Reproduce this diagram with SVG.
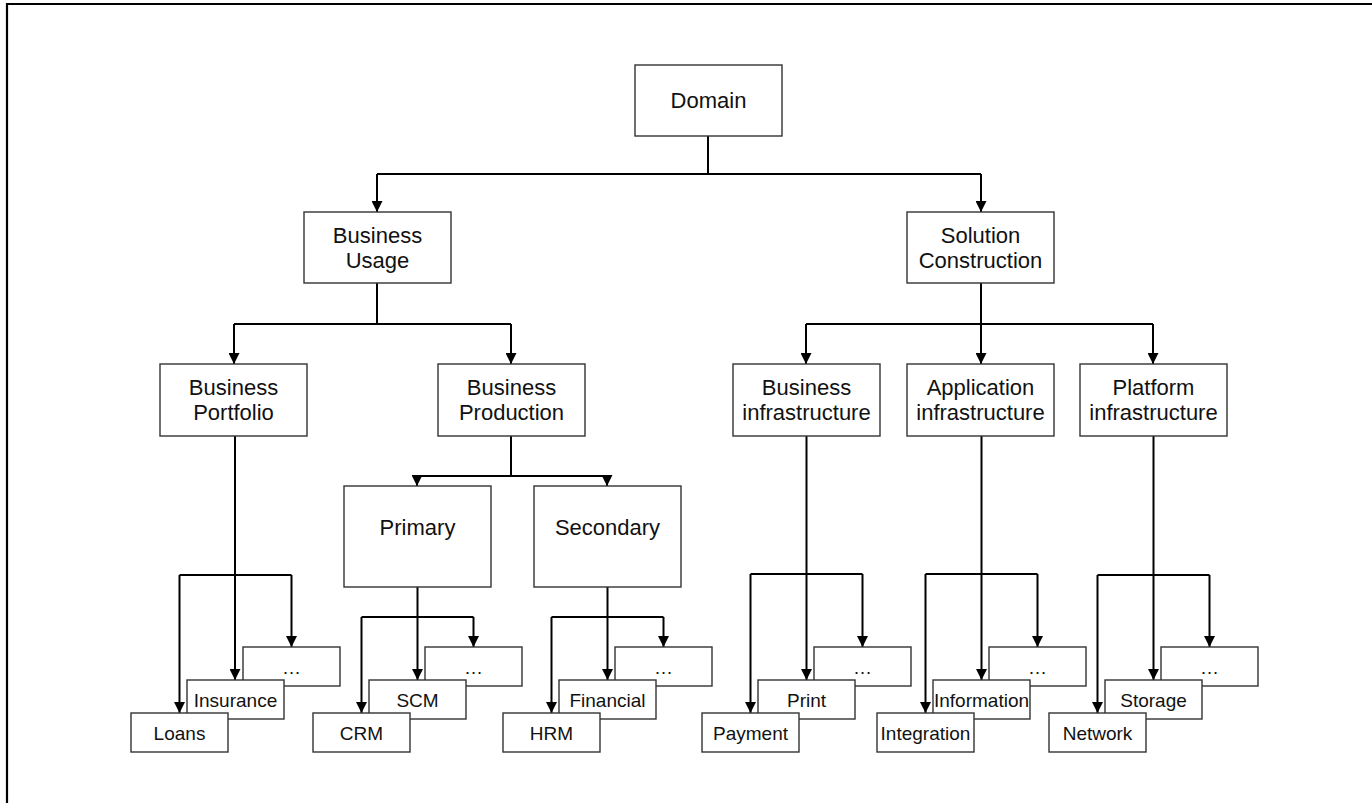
<svg xmlns="http://www.w3.org/2000/svg" width="1372" height="803" viewBox="0 0 1372 803">
  <style>
    .box { fill: #ffffff; stroke: #333333; stroke-width: 1.4; }
    .lbl { font-family: "Liberation Sans", Arial, sans-serif; font-size: 22px; fill: #111111; text-anchor: middle; }
    .sm { font-family: "Liberation Sans", Arial, sans-serif; font-size: 19px; fill: #111111; text-anchor: middle; }
    .edge { fill: none; stroke: #000000; stroke-width: 2; }
    .arr { fill: none; stroke: #000000; stroke-width: 2; marker-end: url(#head); }
  </style>
  <defs>
    <marker id="head" viewBox="0 0 10 10" refX="10" refY="5" markerWidth="5.5" markerHeight="5.5" markerUnits="strokeWidth" orient="auto">
      <path d="M0,0 L10,5 L0,10 Z" fill="#000000"/>
    </marker>
  </defs>

  <rect x="0" y="0" width="1372" height="803" fill="#ffffff"/>
  <!-- frame -->
  <path d="M7,803 V4 H1372" fill="none" stroke="#000000" stroke-width="2.2"/>

  <!-- connectors -->
  <g id="connectors">
    <path class="edge" d="M708,136 V174 M377,174 H981"/>
    <path class="arr" d="M377,174 V212"/>
    <path class="arr" d="M981,174 V212"/>

    <path class="edge" d="M377,283 V324 M234,324 H511"/>
    <path class="arr" d="M234,324 V364"/>
    <path class="arr" d="M511,324 V364"/>

    <path class="edge" d="M981,283 V324 M806,324 H1153"/>
    <path class="arr" d="M806,324 V364"/>
    <path class="arr" d="M981,324 V364"/>
    <path class="arr" d="M1153,324 V364"/>

    <path class="edge" d="M511,436 V476 M417,476 H607"/>
    <path class="arr" d="M417,476 V486"/>
    <path class="arr" d="M607,476 V486"/>

    <!-- Portfolio stack -->
    <path class="arr" d="M235,436 V680"/>
    <path class="edge" d="M179.5,575 H291.5"/>
    <path class="arr" d="M179.5,575 V713"/>
    <path class="arr" d="M291.5,575 V647"/>

    <!-- Primary stack -->
    <path class="arr" d="M417.5,587 V680"/>
    <path class="edge" d="M361.5,617 H473.5"/>
    <path class="arr" d="M361.5,617 V713"/>
    <path class="arr" d="M473.5,617 V647"/>

    <!-- Secondary stack -->
    <path class="arr" d="M607.5,587 V680"/>
    <path class="edge" d="M551.5,617 H663.5"/>
    <path class="arr" d="M551.5,617 V713"/>
    <path class="arr" d="M663.5,617 V647"/>

    <!-- Business infrastructure stack -->
    <path class="arr" d="M806.5,436 V680"/>
    <path class="edge" d="M750.5,574 H862.5"/>
    <path class="arr" d="M750.5,574 V713"/>
    <path class="arr" d="M862.5,574 V647"/>

    <!-- Application infrastructure stack -->
    <path class="arr" d="M981.5,436 V680"/>
    <path class="edge" d="M925.5,574 H1037.5"/>
    <path class="arr" d="M925.5,574 V713"/>
    <path class="arr" d="M1037.5,574 V647"/>

    <!-- Platform infrastructure stack -->
    <path class="arr" d="M1153.5,436 V680"/>
    <path class="edge" d="M1097.5,575 H1209.5"/>
    <path class="arr" d="M1097.5,575 V713"/>
    <path class="arr" d="M1209.5,575 V647"/>
  </g>

  <!-- upper levels -->
  <g id="domain">
    <rect class="box" x="635" y="65" width="147" height="71"/>
    <text class="lbl" x="708.5" y="108">Domain</text>
  </g>
  <g id="business-usage">
    <rect class="box" x="304" y="212" width="147" height="71"/>
    <text class="lbl" x="377.5" y="243">Business</text>
    <text class="lbl" x="377.5" y="268">Usage</text>
  </g>
  <g id="solution-construction">
    <rect class="box" x="907" y="212" width="147" height="71"/>
    <text class="lbl" x="980.5" y="243">Solution</text>
    <text class="lbl" x="980.5" y="268">Construction</text>
  </g>
  <g id="business-portfolio">
    <rect class="box" x="160" y="364" width="147" height="72"/>
    <text class="lbl" x="233.5" y="395">Business</text>
    <text class="lbl" x="233.5" y="420">Portfolio</text>
  </g>
  <g id="business-production">
    <rect class="box" x="438" y="364" width="147" height="72"/>
    <text class="lbl" x="511.5" y="395">Business</text>
    <text class="lbl" x="511.5" y="420">Production</text>
  </g>
  <g id="business-infrastructure">
    <rect class="box" x="733" y="364" width="147" height="72"/>
    <text class="lbl" x="806.5" y="395">Business</text>
    <text class="lbl" x="806.5" y="420">infrastructure</text>
  </g>
  <g id="application-infrastructure">
    <rect class="box" x="907" y="364" width="147" height="72"/>
    <text class="lbl" x="980.5" y="395">Application</text>
    <text class="lbl" x="980.5" y="420">infrastructure</text>
  </g>
  <g id="platform-infrastructure">
    <rect class="box" x="1080" y="364" width="147" height="72"/>
    <text class="lbl" x="1153.5" y="395">Platform</text>
    <text class="lbl" x="1153.5" y="420">infrastructure</text>
  </g>
  <g id="primary">
    <rect class="box" x="344" y="486" width="147" height="101"/>
    <text class="lbl" x="417.5" y="535">Primary</text>
  </g>
  <g id="secondary">
    <rect class="box" x="534" y="486" width="147" height="101"/>
    <text class="lbl" x="607.5" y="535">Secondary</text>
  </g>

  <!-- Portfolio leaves -->
  <g id="portfolio-more">
    <rect class="box" x="243" y="647" width="97" height="39"/>
    <text class="sm" x="291.5" y="673.5">…</text>
  </g>
  <g id="insurance">
    <rect class="box" x="187" y="680" width="97" height="39"/>
    <text class="sm" x="235.5" y="706.5">Insurance</text>
  </g>
  <g id="loans">
    <rect class="box" x="131" y="713" width="97" height="39"/>
    <text class="sm" x="179.5" y="739.5">Loans</text>
  </g>

  <!-- Primary leaves -->
  <g id="primary-more">
    <rect class="box" x="425" y="647" width="97" height="39"/>
    <text class="sm" x="473.5" y="673.5">…</text>
  </g>
  <g id="scm">
    <rect class="box" x="369" y="680" width="97" height="39"/>
    <text class="sm" x="417.5" y="706.5">SCM</text>
  </g>
  <g id="crm">
    <rect class="box" x="313" y="713" width="97" height="39"/>
    <text class="sm" x="361.5" y="739.5">CRM</text>
  </g>

  <!-- Secondary leaves -->
  <g id="secondary-more">
    <rect class="box" x="615" y="647" width="97" height="39"/>
    <text class="sm" x="663.5" y="673.5">…</text>
  </g>
  <g id="financial">
    <rect class="box" x="559" y="680" width="97" height="39"/>
    <text class="sm" x="607.5" y="706.5">Financial</text>
  </g>
  <g id="hrm">
    <rect class="box" x="503" y="713" width="97" height="39"/>
    <text class="sm" x="551.5" y="739.5">HRM</text>
  </g>

  <!-- Business infrastructure leaves -->
  <g id="business-infra-more">
    <rect class="box" x="814" y="647" width="97" height="39"/>
    <text class="sm" x="862.5" y="673.5">…</text>
  </g>
  <g id="print">
    <rect class="box" x="758" y="680" width="97" height="39"/>
    <text class="sm" x="806.5" y="706.5">Print</text>
  </g>
  <g id="payment">
    <rect class="box" x="702" y="713" width="97" height="39"/>
    <text class="sm" x="750.5" y="739.5">Payment</text>
  </g>

  <!-- Application infrastructure leaves -->
  <g id="application-infra-more">
    <rect class="box" x="989" y="647" width="97" height="39"/>
    <text class="sm" x="1037.5" y="673.5">…</text>
  </g>
  <g id="information">
    <rect class="box" x="933" y="680" width="97" height="39"/>
    <text class="sm" x="981.5" y="706.5">Information</text>
  </g>
  <g id="integration">
    <rect class="box" x="877" y="713" width="97" height="39"/>
    <text class="sm" x="925.5" y="739.5">Integration</text>
  </g>

  <!-- Platform infrastructure leaves -->
  <g id="platform-infra-more">
    <rect class="box" x="1161" y="647" width="97" height="39"/>
    <text class="sm" x="1209.5" y="673.5">…</text>
  </g>
  <g id="storage">
    <rect class="box" x="1105" y="680" width="97" height="39"/>
    <text class="sm" x="1153.5" y="706.5">Storage</text>
  </g>
  <g id="network">
    <rect class="box" x="1049" y="713" width="97" height="39"/>
    <text class="sm" x="1097.5" y="739.5">Network</text>
  </g>
</svg>
